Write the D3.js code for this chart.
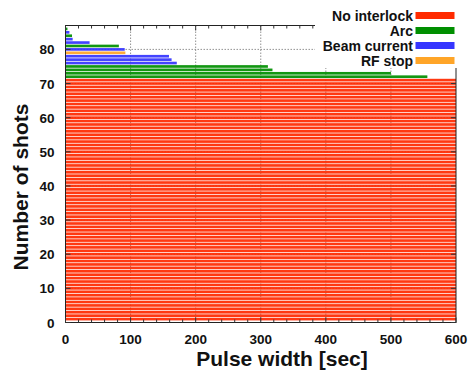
<!DOCTYPE html>
<html>
<head>
<meta charset="utf-8">
<script src="https://cdn.jsdelivr.net/npm/d3@7"></script>
<style>
  body { margin: 0; background: #fff; }
  svg text { font-family: "Liberation Sans", Arial, sans-serif; font-weight: bold; fill: #111; }
</style>
</head>
<body>
<div id="chart"></div>
<script>
// pulse width of every shot, shot 1 at the bottom
var pulseWidth = [
  600, 600, 600, 600, 600, 600, 600, 600, 600, 600,
  600, 600, 600, 600, 600, 600, 600, 600, 600, 600,
  600, 600, 600, 600, 600, 600, 600, 600, 600, 600,
  600, 600, 600, 600, 600, 600, 600, 600, 600, 600,
  600, 600, 600, 600, 600, 600, 600, 600, 600, 600,
  600, 600, 600, 600, 600, 600, 600, 600, 600, 600,
  600, 600, 600, 600, 600, 600, 600, 600, 600, 600,
  600,
  556, 500, 318, 311, 171, 163, 159, 92, 91, 82, 37, 11, 10, 6, 3
];
// what stopped the shot (N = no interlock)
var stopCause = [
  "N","N","N","N","N","N","N","N","N","N",
  "N","N","N","N","N","N","N","N","N","N",
  "N","N","N","N","N","N","N","N","N","N",
  "N","N","N","N","N","N","N","N","N","N",
  "N","N","N","N","N","N","N","N","N","N",
  "N","N","N","N","N","N","N","N","N","N",
  "N","N","N","N","N","N","N","N","N","N",
  "N",
  "Arc","Arc","Arc","Arc","Beam","Beam","Beam","RF","Beam","Arc","Beam","Beam","Arc","Beam","Arc"
];
var legendKeys = ["N", "Arc", "Beam", "RF"];
var legendNames = ["No interlock", "Arc", "Beam current", "RF stop"];
var legendColors = ["#ff2a00", "#008f00", "#3535ff", "#ffa528"];
var xTicks = [0, 100, 200, 300, 400, 500, 600];
var yTicks = [0, 10, 20, 30, 40, 50, 60, 70, 80];

var data = pulseWidth.map(function(w, i) {
  return { shot: i + 1, width: w, cause: stopCause[i] };
});

var W = 470, H = 376;
var margin = { top: 25.5, right: 14, bottom: 53.5, left: 65.5 };
var width = W - margin.left - margin.right,
  height = H - margin.top - margin.bottom;

var svg = d3.select("#chart").append("svg")
  .attr("width", W)
  .attr("height", H);

var g = svg.append("g")
  .attr("transform", "translate(" + margin.left + "," + margin.top + ")");

var x = d3.scaleLinear().domain([0, 600]).range([0, width]);
var y = d3.scaleLinear().domain([0, 87]).range([height, 0]);
var color = d3.scaleOrdinal().domain(legendKeys).range(legendColors);

//dashed grid behind the bars
g.selectAll(".vgrid").data(xTicks.slice(1, -1)).enter().append("line")
  .attr("x1", function(d) { return x(d); })
  .attr("x2", function(d) { return x(d); })
  .attr("y1", 0).attr("y2", height)
  .attr("stroke", "#777").attr("stroke-width", 0.8)
  .attr("stroke-dasharray", "1.5,1.5");
g.selectAll(".hgrid").data(yTicks.slice(1)).enter().append("line")
  .attr("x1", 0).attr("x2", width)
  .attr("y1", function(d) { return y(d); })
  .attr("y2", function(d) { return y(d); })
  .attr("stroke", "#777").attr("stroke-width", 0.8)
  .attr("stroke-dasharray", "1.5,1.5");

//one bar per shot, centred on the shot number
var barH = y(0) - y(0.78);
g.selectAll(".bar").data(data).enter().append("rect")
  .attr("x", x(0))
  .attr("y", function(d) { return y(d.shot) - barH / 2; })
  .attr("width", function(d) { return x(d.width) - x(0); })
  .attr("height", barH)
  .attr("fill", function(d) { return color(d.cause); })
  .attr("fill-opacity", 0.93);

//frame
g.append("rect")
  .attr("width", width).attr("height", height)
  .attr("fill", "none").attr("stroke", "#222").attr("stroke-width", 1);

//inward ticks, gnuplot style
var xMinor = d3.range(0, 601, 20);
g.selectAll(".xt").data(xMinor).enter().append("line")
  .attr("x1", function(d) { return x(d); })
  .attr("x2", function(d) { return x(d); })
  .attr("y1", height)
  .attr("y2", function(d) { return height - (d % 100 === 0 ? 5 : 3); })
  .attr("stroke", "#333");
g.selectAll(".xt2").data(xMinor).enter().append("line")
  .attr("x1", function(d) { return x(d); })
  .attr("x2", function(d) { return x(d); })
  .attr("y1", 0)
  .attr("y2", function(d) { return d % 100 === 0 ? 5 : 3; })
  .attr("stroke", "#333");
g.selectAll(".yt").data(yTicks).enter().append("line")
  .attr("x1", 0).attr("x2", 5)
  .attr("y1", function(d) { return y(d); })
  .attr("y2", function(d) { return y(d); })
  .attr("stroke", "#333");
g.selectAll(".yt2").data(yTicks).enter().append("line")
  .attr("x1", width).attr("x2", width - 5)
  .attr("y1", function(d) { return y(d); })
  .attr("y2", function(d) { return y(d); })
  .attr("stroke", "#333");

//tick labels
g.selectAll(".xl").data(xTicks).enter().append("text")
  .attr("x", function(d) { return x(d); })
  .attr("y", height + 21)
  .attr("text-anchor", "middle")
  .style("font-size", "13.5px")
  .text(function(d) { return d; });
g.selectAll(".yl").data(yTicks).enter().append("text")
  .attr("x", -11)
  .attr("y", function(d) { return y(d) + 5; })
  .attr("text-anchor", "end")
  .style("font-size", "13.5px")
  .text(function(d) { return d; });

//axis titles
svg.append("text")
  .attr("x", 282).attr("y", 366)
  .attr("text-anchor", "middle")
  .style("font-size", "21px")
  .text("Pulse width [sec]");
svg.append("text")
  .attr("transform", "translate(28,187) rotate(-90)")
  .attr("text-anchor", "middle")
  .style("font-size", "21px")
  .text("Number of shots");

//legend sits on a white box over the top right corner
var legend = svg.append("g");
legend.append("rect")
  .attr("x", 315).attr("y", 0).attr("width", 155).attr("height", 68)
  .attr("fill", "#fff");
var rows = legend.selectAll(".lg").data(legendKeys).enter().append("g")
  .attr("transform", function(d, i) { return "translate(0," + (15.5 + i * 15) + ")"; });
rows.append("text")
  .attr("x", 413).attr("y", 5)
  .attr("text-anchor", "end")
  .style("font-size", "14px")
  .text(function(d, i) { return legendNames[i]; });
rows.append("rect")
  .attr("x", 415.5).attr("y", -3.5).attr("width", 39).attr("height", 7)
  .attr("fill", function(d) { return color(d); });
</script>
</body>
</html>
